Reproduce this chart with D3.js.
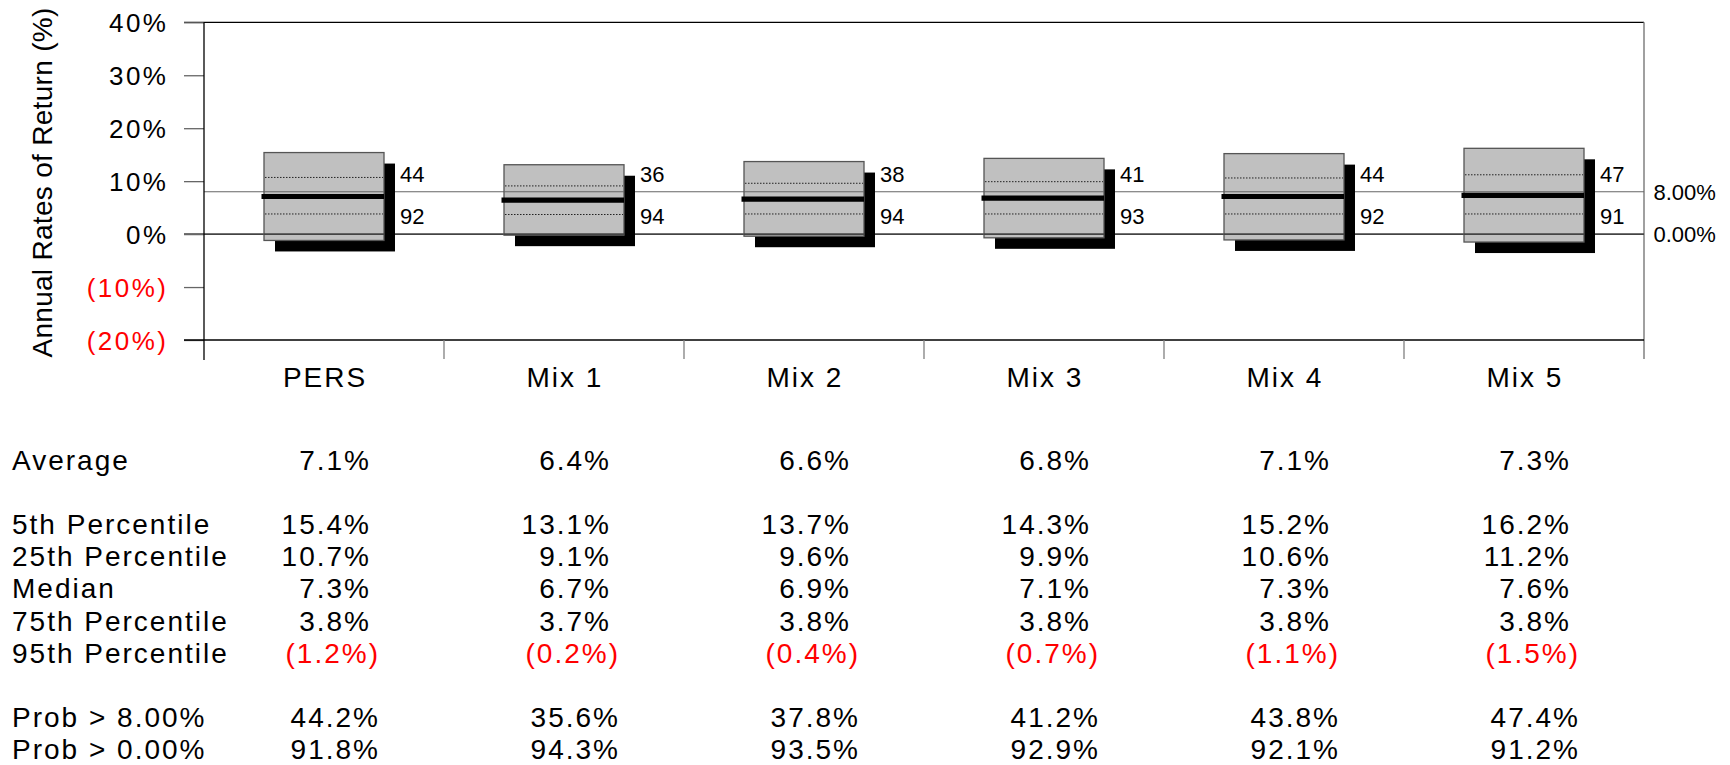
<!DOCTYPE html>
<html>
<head>
<meta charset="utf-8">
<script src="https://cdn.jsdelivr.net/npm/d3@7"></script>
<style>
  html, body { margin: 0; padding: 0; background: #fff; }
  svg { display: block; font-family: "Liberation Sans", Arial, Helvetica, sans-serif; }
</style>
</head>
<body>
<svg id="chart" width="1730" height="765"></svg>
<script>
// ---- data ----
const categories = ["PERS", "Mix 1", "Mix 2", "Mix 3", "Mix 4", "Mix 5"];
const average = [7.1, 6.4, 6.6, 6.8, 7.1, 7.3];
const p5  = [15.4, 13.1, 13.7, 14.3, 15.2, 16.2];
const p25 = [10.7, 9.1, 9.6, 9.9, 10.6, 11.2];
const median = [7.3, 6.7, 6.9, 7.1, 7.3, 7.6];
const p75 = [3.8, 3.7, 3.8, 3.8, 3.8, 3.8];
const p95 = [-1.2, -0.2, -0.4, -0.7, -1.1, -1.5];
const probAbove8 = [44.2, 35.6, 37.8, 41.2, 43.8, 47.4];
const probAbove0 = [91.8, 94.3, 93.5, 92.9, 92.1, 91.2];
const targetRates = [8, 0];
const yTicks = [40, 30, 20, 10, 0, -10, -20];
const yTitle = "Annual Rates of Return (%)";
const rowLabels = ["Average", "5th Percentile", "25th Percentile", "Median",
                   "75th Percentile", "95th Percentile", "Prob > 8.00%", "Prob > 0.00%"];

(function () {
// ---- layout ----
const svg = d3.select("#chart");
const pLeft = 204, pRight = 1644, pTop = 22.3, pBottom = 340;
const x = d3.scaleBand().domain(categories).range([pLeft, pRight]).padding(0);
const y = d3.scaleLinear().domain([-20, 40]).range([pBottom, pTop]);
const bw = x.bandwidth();
const boxW = bw / 2;
const shadow = 11;

const pctAxis = v => v < 0 ? "(" + Math.abs(v) + "%)" : v + "%";
const pct1 = v => v < 0 ? "(" + d3.format(".1f")(Math.abs(v)) + "%)" : d3.format(".1f")(v) + "%";

const data = categories.map((c, i) => ({
  c, avg: average[i], p5: p5[i], p25: p25[i], med: median[i], p75: p75[i], p95: p95[i],
  pr8: probAbove8[i], pr0: probAbove0[i]
}));

// frame
const g = svg.append("g");
g.append("line").attr("x1", pLeft - 20).attr("x2", pRight).attr("y1", pTop).attr("y2", pTop)
  .attr("stroke", "#000").attr("stroke-width", 1.2);
g.append("line").attr("x1", pRight).attr("x2", pRight).attr("y1", pTop).attr("y2", pBottom + 19)
  .attr("stroke", "#808080").attr("stroke-width", 1.5);

// reference lines (full width)
g.selectAll(".ref").data(targetRates).join("line")
  .attr("x1", d => d === 0 ? pLeft - 20 : pLeft).attr("x2", pRight)
  .attr("y1", d => y(d)).attr("y2", d => y(d))
  .attr("stroke", d => d === 0 ? "#444" : "#666")
  .attr("stroke-width", d => d === 0 ? 1.8 : 1.2);

// y axis
const yAxis = d3.axisLeft(y).tickValues(yTicks).tickSize(20).tickPadding(18).tickFormat(pctAxis);
const ya = svg.append("g").attr("transform", `translate(${pLeft},0)`).call(yAxis);
ya.select(".domain").remove();
ya.selectAll(".tick line").attr("stroke", "#666").attr("stroke-width", 1.3);
ya.selectAll(".tick text")
  .attr("font-size", 26).attr("letter-spacing", "2.5px").attr("dy", "0.37em")
  .attr("x", -35.5)
  .attr("fill", d => d < 0 ? "#ff0000" : "#000");
svg.append("line").attr("x1", pLeft).attr("x2", pLeft).attr("y1", pTop).attr("y2", pBottom + 20)
  .attr("stroke", "#000").attr("stroke-width", 1.3);
svg.append("line").attr("x1", pLeft - 20).attr("x2", pRight).attr("y1", pBottom).attr("y2", pBottom)
  .attr("stroke", "#000").attr("stroke-width", 1.3);

// category boundary ticks
svg.selectAll(".ctick").data(categories.slice(0, -1)).join("line")
  .attr("x1", d => x(d) + bw).attr("x2", d => x(d) + bw)
  .attr("y1", pBottom).attr("y2", pBottom + 19)
  .attr("stroke", "#808080").attr("stroke-width", 1.3);

// category labels
svg.selectAll(".clabel").data(categories).join("text")
  .attr("x", d => x(d) + bw / 2 + 1).attr("y", 386.7)
  .attr("text-anchor", "middle").attr("font-size", 28).attr("letter-spacing", "2px")
  .text(d => d);

// y title
svg.append("text").attr("transform", "translate(52.3,182.5) rotate(-90)")
  .attr("text-anchor", "middle").attr("font-size", 28).attr("letter-spacing", "0.3px")
  .text(yTitle);

// boxes
const bx = d => x(d.c) + (bw - boxW) / 2;
const boxes = svg.append("g").selectAll("g").data(data).join("g");
boxes.append("rect").attr("x", d => bx(d) + shadow).attr("y", d => y(d.p5) + shadow)
  .attr("width", boxW).attr("height", d => y(d.p95) - y(d.p5)).attr("fill", "#000");
boxes.append("rect").attr("x", d => bx(d)).attr("y", d => y(d.p5))
  .attr("width", boxW).attr("height", d => y(d.p95) - y(d.p5))
  .attr("fill", "#c0c0c0").attr("stroke", "#555").attr("stroke-width", 1.3);
targetRates.forEach(t => {
  boxes.filter(d => t <= d.p5 && t >= d.p95).append("line")
    .attr("x1", d => bx(d)).attr("x2", d => bx(d) + boxW)
    .attr("y1", y(t)).attr("y2", y(t))
    .attr("stroke", t === 0 ? "#444" : "#666").attr("stroke-width", t === 0 ? 1.8 : 1.2);
});
["p25", "p75"].forEach(k => {
  boxes.append("line").attr("x1", d => bx(d) + 1).attr("x2", d => bx(d) + boxW - 1)
    .attr("y1", d => y(d[k])).attr("y2", d => y(d[k]))
    .attr("stroke", "#222").attr("stroke-width", 1).attr("stroke-dasharray", "1.5,1.5");
});
boxes.append("line").attr("x1", d => bx(d) - 2.5).attr("x2", d => bx(d) + boxW)
  .attr("y1", d => y(d.avg)).attr("y2", d => y(d.avg))
  .attr("stroke", "#000").attr("stroke-width", 5.2);
// probability labels
boxes.append("text").attr("x", d => bx(d) + boxW + 16).attr("y", y(targetRates[0]) - 10)
  .attr("font-size", 22).text(d => d3.format(".0f")(d.pr8));
boxes.append("text").attr("x", d => bx(d) + boxW + 16).attr("y", y(targetRates[1]) - 10)
  .attr("font-size", 22).text(d => d3.format(".0f")(d.pr0));

// right labels
svg.selectAll(".rlabel").data(targetRates).join("text")
  .attr("x", pRight + 9.5).attr("y", d => y(d)).attr("dy", "0.36em")
  .attr("font-size", 22).text(d => d3.format(".2f")(d) + "%");

// ---- table ----
const rowIdx = [0, 2, 3, 4, 5, 6, 8, 9];
const rowY = i => 469.5 + rowIdx[i] * 32.2;
const rowData = [average, p5, p25, median, p75, p95, probAbove8, probAbove0];
const tbl = svg.append("g").attr("font-size", 28).attr("letter-spacing", "2px");
tbl.selectAll(".rl").data(rowLabels).join("text")
  .attr("x", 12).attr("y", (d, i) => rowY(i)).text(d => d);
rowData.forEach((arr, r) => {
  const isProb = r >= 6;
  tbl.append("g").selectAll("text").data(arr).join("text")
    .attr("x", (v, i) => x(categories[i]) + 176 - (!isProb && v >= 0 ? 9 : 0))
    .attr("y", rowY(r)).attr("text-anchor", "end")
    .attr("fill", v => v < 0 ? "#ff0000" : "#000")
    .text(v => pct1(v));
});
})();
</script>
</body>
</html>
